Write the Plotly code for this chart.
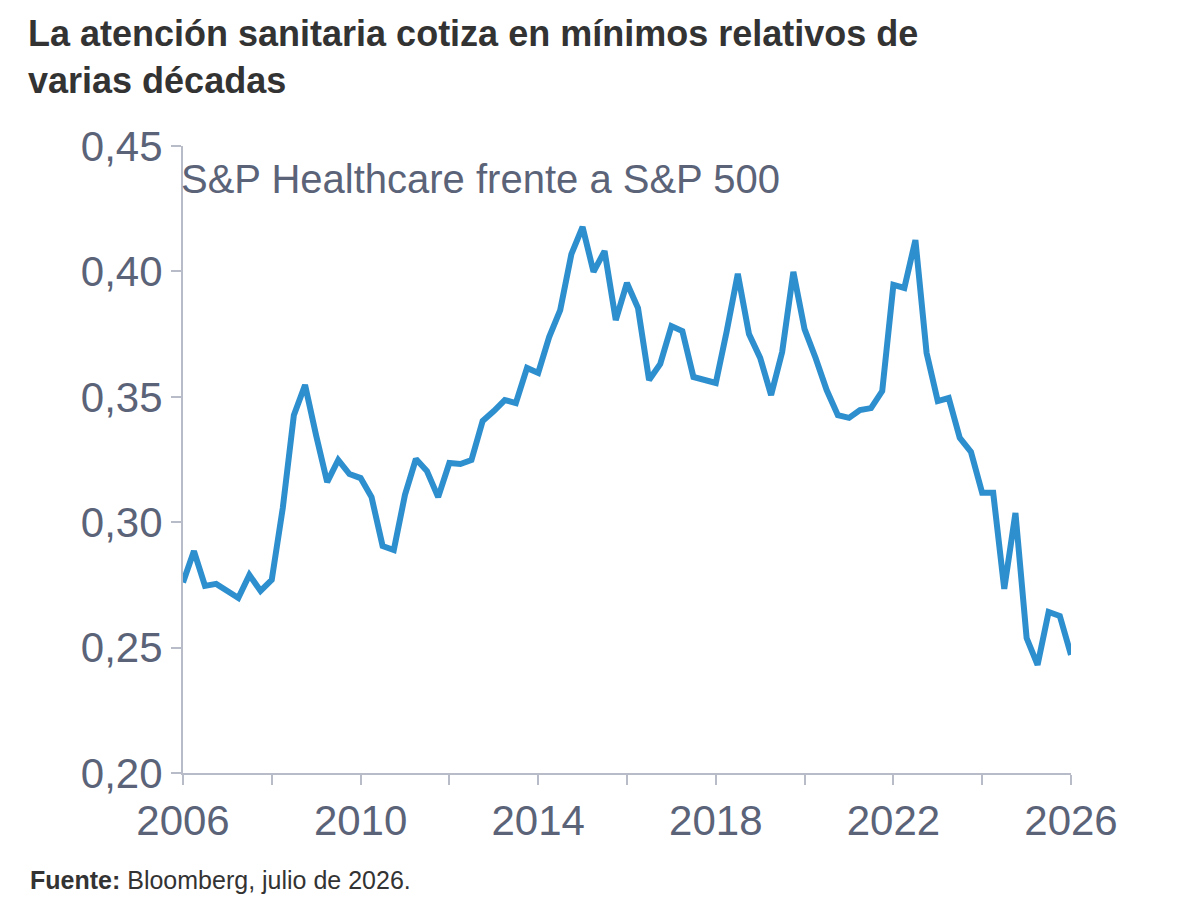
import pandas as pd
import plotly.graph_objects as go

title = "La atención sanitaria cotiza en mínimos relativos de<br>varias décadas"
series_name = "S&P Healthcare frente a S&P 500"
source = "<b>Fuente:</b> Bloomberg, julio de 2026."

# quarterly ratio readings, 2006 Q1 .. 2026 Q1
ratio = [
    0.276, 0.2885, 0.2746, 0.2754, 0.2726, 0.2698, 0.279, 0.2726, 0.277,
    0.3057, 0.3427, 0.3547, 0.3344, 0.316, 0.3248, 0.3192, 0.3176, 0.310,
    0.2905, 0.2889, 0.3109, 0.3252, 0.3204, 0.310, 0.3236, 0.3232, 0.3248,
    0.3404, 0.3443, 0.3487, 0.3475, 0.3615, 0.3595, 0.3738, 0.3846, 0.4069,
    0.4177, 0.3998, 0.4081, 0.3806, 0.3954, 0.3854, 0.3567, 0.3631, 0.3782,
    0.3762, 0.3579, 0.3567, 0.3555, 0.3762, 0.399, 0.375, 0.3655, 0.3507,
    0.3679, 0.3998, 0.377, 0.3655, 0.3527, 0.3427, 0.3416, 0.3447, 0.3455,
    0.3523, 0.3946, 0.3934, 0.4125, 0.3675, 0.3483, 0.3495, 0.3336, 0.328,
    0.3117, 0.3117, 0.2734, 0.3037, 0.2538, 0.2431, 0.2642, 0.2626, 0.2471,
]
dates = pd.date_range("2006-01-01", periods=len(ratio), freq="QS")

grey = "#5b6378"
axis_col = "#b8bcc8"

fig = go.Figure(go.Scatter(x=dates, y=ratio, mode="lines",
                           line=dict(color="#2e8fcf", width=6)))

fig.update_layout(
    width=1200, height=911,
    margin=dict(l=175, r=137, t=138, b=146),
    paper_bgcolor="white", plot_bgcolor="white",
    showlegend=False,
    separators=",.",
    font=dict(family="Liberation Sans, Arial", color=grey),
    annotations=[
        dict(text="<b>" + title + "</b>", xref="paper", yref="paper", x=-0.177, y=1.215,
             xanchor="left", yanchor="top", align="left", showarrow=False,
             font=dict(size=36, color="#333333")),
        dict(text=series_name, xref="paper", yref="paper", x=0.335, y=0.985,
             xanchor="center", yanchor="top", showarrow=False, font=dict(size=40, color=grey)),
        dict(text=source, xref="paper", yref="paper", x=-0.175, y=-0.17,
             xanchor="left", yanchor="middle", showarrow=False, font=dict(size=25, color="#333333")),
    ],
)
fig.update_xaxes(
    range=["2006-01-01", "2026-01-01"], tick0="2006-01-01", dtick="M48", tickformat="%Y",
    automargin=False,
    showgrid=False, showline=True, linecolor=axis_col, linewidth=2,
    ticks="outside", ticklen=10, tickcolor=axis_col, tickwidth=2,
    minor=dict(dtick="M24", ticks="outside", ticklen=10, tickcolor=axis_col, tickwidth=2),
    tickfont=dict(size=42, color=grey),
)
fig.update_yaxes(
    range=[0.20, 0.45], dtick=0.05, tickformat=".2f", automargin=False,
    showgrid=False, showline=True, linecolor=axis_col, linewidth=2,
    ticks="outside", ticklen=10, tickcolor=axis_col, tickwidth=2,
    tickfont=dict(size=42, color=grey), zeroline=False,
)

fig.write_html("out.html")
